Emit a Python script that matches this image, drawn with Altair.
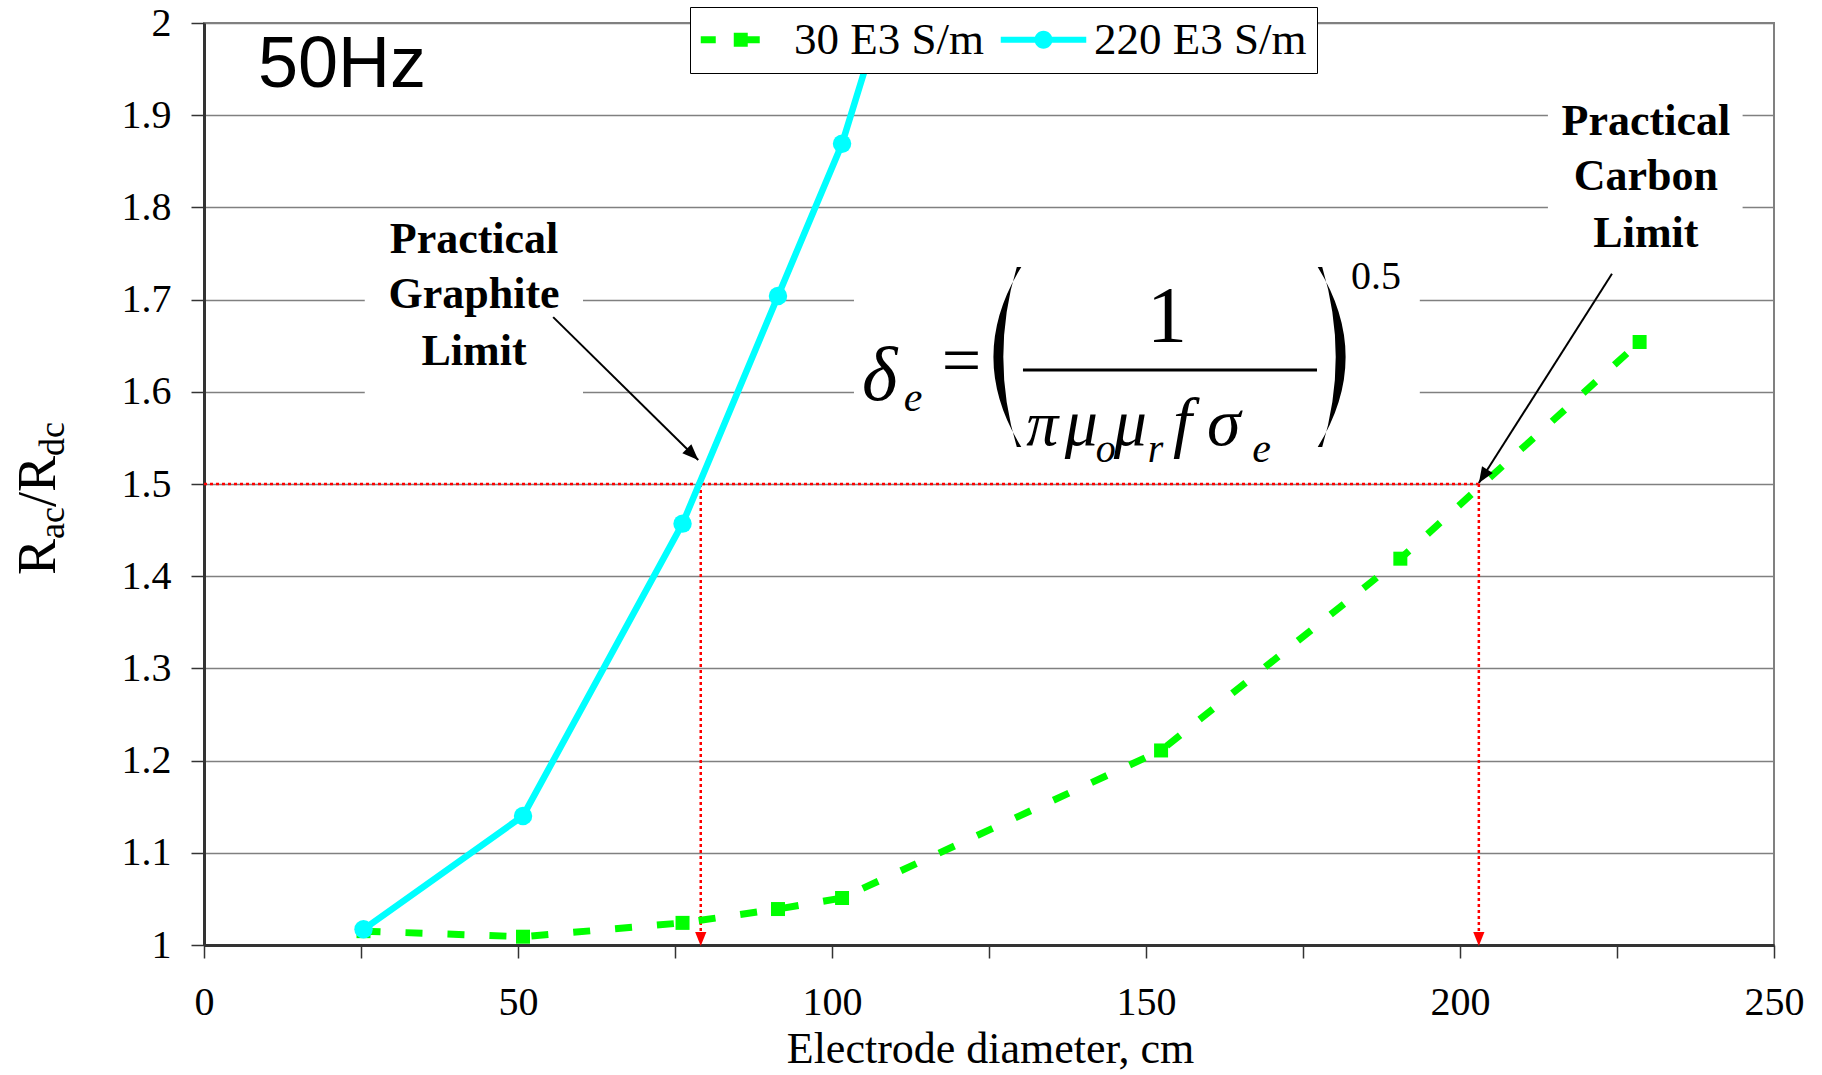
import altair as alt
import pandas as pd

# ---------------- data ----------------
series_names = ["30 E3 S/m", "220 E3 S/m"]
series_colors = ["#00FF00", "#00FFFF"]

diam_30 = [25.4, 50.8, 76.2, 91.4, 101.6, 152.4, 190.5, 228.6]
ratio_30 = [1.015, 1.009, 1.024, 1.039, 1.051, 1.211, 1.419, 1.654]

diam_220 = [25.4, 50.8, 76.2, 91.4, 101.6, 114.3]
ratio_220 = [1.017, 1.140, 1.457, 1.704, 1.869, 2.15]

x_tick_values = [0, 25, 50, 75, 100, 125, 150, 175, 200, 225, 250]
y_tick_values = [1.0, 1.1, 1.2, 1.3, 1.4, 1.5, 1.6, 1.7, 1.8, 1.9, 2.0]

limit_ratio = 1.5
graphite_limit_cm = 79.1
carbon_limit_cm = 203.0

# annotation texts (data coordinates)
note_text = ["Practical", "Graphite", "Limit", "Practical", "Carbon", "Limit"]
note_x = [43.0, 43.0, 43.0, 229.6, 229.6, 229.6]
note_y = [1.7505, 1.691, 1.629, 1.8785, 1.8189, 1.757]

# white label boxes
box_x = [25.6, 103.5, 214.0]
box_x2 = [60.35, 193.6, 245.0]
box_y = [1.585, 1.53, 1.745]
box_y2 = [1.785, 1.77, 1.93]

# black pointer arrows
arrow_x = [55.6, 224.2]
arrow_y = [1.681, 1.728]
arrow_x2 = [78.7, 203.0]
arrow_y2 = [1.526, 1.501]
arrow_angle = [134.6, 212.5]

# formula pieces
f_ital_text = ["δ", "e", "π", "μ", "o", "μ", "r", "f", "σ", "e"]
f_ital_x = [107.6, 112.9, 133.5, 139.7, 143.6, 147.5, 151.5, 155.8, 162.4, 168.4]
f_ital_y = [1.5911, 1.5795, 1.5423, 1.5423, 1.5239, 1.5423, 1.5239, 1.5423, 1.5423, 1.5239]
f_ital_size = [76, 42, 64, 66, 40, 66, 40, 68, 68, 42]

f_reg_text = ["=", "1", "0.5"]
f_reg_x = [120.6, 153.34, 186.62]
f_reg_y = [1.6085, 1.654, 1.7115]
f_reg_size = [70, 80, 40]

frac_x = [130.41]
frac_x2 = [177.23]
frac_y = [1.6236]

paren_x = [127.71, 179.78]
paren_y = [1.6377, 1.6377]

# y-axis title pieces R_ac / R_dc
yt_text = ["R", "ac", "/R", "dc"]
yt_x = [-23.73, -22.29, -23.73, -22.29]
yt_y = [1.4013, 1.4403, 1.475, 1.5304]
yt_size = [54, 36, 54, 36]

# ---------------- scales / axes ----------------
xscale = alt.Scale(domain=[0, 250], nice=False, zero=False)
yscale = alt.Scale(domain=[1, 2], nice=False, zero=False)

xaxis = alt.Axis(
    values=x_tick_values,
    labelExpr="datum.value % 50 == 0 ? datum.label : ''",
    title="Electrode diameter, cm",
    grid=False,
    labelFont="Liberation Serif", labelFontSize=40, labelColor="black",
    labelPadding=24, labelFlush=False, labelOverlap=False,
    tickSize=13, tickWidth=1.5, tickColor="#333333",
    domainColor="#333333", domainWidth=3,
    titleFont="Liberation Serif", titleFontSize=44, titleFontWeight="normal",
    titleColor="black", titleY=117, titleBaseline="alphabetic", titleX=786,
)
yaxis = alt.Axis(
    values=y_tick_values,
    format=".1~f",
    title=None,
    grid=True, gridColor="#808080", gridWidth=1.5,
    labelFont="Liberation Serif", labelFontSize=40, labelColor="black",
    labelPadding=20, labelOverlap=False,
    tickSize=13, tickWidth=1.5, tickColor="#333333",
    domainColor="#333333", domainWidth=3,
)


def X(f):
    return alt.X(f, type="quantitative", scale=xscale, axis=xaxis)


def Y(f):
    return alt.Y(f, type="quantitative", scale=yscale, axis=yaxis)


# ---------------- layers ----------------
boxes = alt.Chart(pd.DataFrame({"x": box_x, "x2": box_x2, "y": box_y, "y2": box_y2})).mark_rect(
    color="white", opacity=1
).encode(x=X("x"), x2="x2", y=Y("y"), y2="y2")

limit_df = pd.DataFrame({
    "x": [0, graphite_limit_cm, carbon_limit_cm],
    "x2": [carbon_limit_cm, graphite_limit_cm, carbon_limit_cm],
    "y": [limit_ratio, limit_ratio, limit_ratio],
    "y2": [limit_ratio, 1.014, 1.014],
})
limit_lines = alt.Chart(limit_df).mark_rule(color="#FF0000", strokeDash=[3, 3], strokeWidth=2.5).encode(
    x=X("x"), x2="x2", y=Y("y"), y2="y2"
)

head_path = "M0,0L0.4,1L-0.4,1Z"
red_heads = alt.Chart(pd.DataFrame({"x": [graphite_limit_cm, carbon_limit_cm], "y": [0.999, 0.999]})).mark_point(
    shape=head_path, filled=True, color="#FF0000", size=784, angle=180, opacity=1, strokeWidth=0
).encode(x=X("x"), y=Y("y"))

df30 = pd.DataFrame({"d": diam_30, "r": ratio_30})
df220 = pd.DataFrame({"d": diam_220, "r": ratio_220})

line30 = alt.Chart(df30).mark_line(color="#00FF00", strokeWidth=7, strokeDash=[17, 25]).encode(
    x=X("d"), y=Y("r")
)
pts30 = alt.Chart(df30).mark_point(shape="square", filled=True, color="#00FF00", size=196, opacity=1).encode(
    x=X("d"), y=Y("r")
)
line220 = alt.Chart(df220).mark_line(color="#00FFFF", strokeWidth=6.5, clip=True).encode(
    x=X("d"), y=Y("r")
)
pts220 = alt.Chart(df220).mark_point(shape="circle", filled=True, color="#00FFFF", size=340, opacity=1, clip=True).encode(
    x=X("d"), y=Y("r")
)

arrow_df = pd.DataFrame({"x": arrow_x, "y": arrow_y, "x2": arrow_x2, "y2": arrow_y2, "angle": arrow_angle})
arrow_lines = alt.Chart(arrow_df).mark_rule(color="black", strokeWidth=2).encode(
    x=X("x"), y=Y("y"), x2="x2", y2="y2"
)
arrow_heads = alt.Chart(arrow_df).mark_point(
    shape=head_path, filled=True, color="black", size=1024, opacity=1, strokeWidth=0
).encode(x=X("x2"), y=Y("y2"), angle=alt.Angle("angle:Q", scale=None))

notes = alt.Chart(pd.DataFrame({"t": note_text, "x": note_x, "y": note_y})).mark_text(
    font="Liberation Serif", fontSize=44, fontWeight="bold", color="black", align="center", baseline="alphabetic"
).encode(x=X("x"), y=Y("y"), text="t:N")

hz = alt.Chart(pd.DataFrame({"t": ["50Hz"], "x": [8.6], "y": [1.9306]})).mark_text(
    font="Liberation Sans", fontSize=72, color="black", align="left", baseline="alphabetic"
).encode(x=X("x"), y=Y("y"), text="t:N")

f_ital = alt.Chart(pd.DataFrame({"t": f_ital_text, "x": f_ital_x, "y": f_ital_y, "s": f_ital_size})).mark_text(
    font="Liberation Serif", fontStyle="italic", color="black", align="center", baseline="alphabetic"
).encode(x=X("x"), y=Y("y"), text="t:N", size=alt.Size("s:Q", scale=None))

f_reg = alt.Chart(pd.DataFrame({"t": f_reg_text, "x": f_reg_x, "y": f_reg_y, "s": f_reg_size})).mark_text(
    font="Liberation Serif", color="black", align="center", baseline="alphabetic"
).encode(x=X("x"), y=Y("y"), text="t:N", size=alt.Size("s:Q", scale=None))

frac = alt.Chart(pd.DataFrame({"x": frac_x, "x2": frac_x2, "y": frac_y})).mark_rule(
    color="black", strokeWidth=3
).encode(x=X("x"), x2="x2", y=Y("y"))

left_paren = "M0.17,-1Q-0.45,0 0.17,1L0.12,1Q-0.18,0 0.12,-1Z"
right_paren = "M-0.17,-1Q0.45,0 -0.17,1L-0.12,1Q0.18,0 -0.12,-1Z"
lp = alt.Chart(pd.DataFrame({"x": paren_x[:1], "y": paren_y[:1]})).mark_point(
    shape=left_paren, filled=True, color="black", size=32400, opacity=1, strokeWidth=0
).encode(x=X("x"), y=Y("y"))
rp = alt.Chart(pd.DataFrame({"x": paren_x[1:], "y": paren_y[1:]})).mark_point(
    shape=right_paren, filled=True, color="black", size=32400, opacity=1, strokeWidth=0
).encode(x=X("x"), y=Y("y"))

ytitle = alt.Chart(pd.DataFrame({"t": yt_text, "x": yt_x, "y": yt_y, "s": yt_size})).mark_text(
    font="Liberation Serif", color="black", angle=270, align="left", baseline="alphabetic"
).encode(x=X("x"), y=Y("y"), text="t:N", size=alt.Size("s:Q", scale=None))

# legend (symbols drawn as line+marker paths)
path_green = ("M-1.9,-0.156H-1.233V0.156H-1.9Z "
              "M-0.433,-0.311H0.189V0.311H-0.433Z "
              "M0.189,-0.156H0.722V0.156H0.189Z")
path_cyan = ("M-1.9,-0.133H1.9V0.133H-1.9Z "
             "M0.4,0A0.4,0.4 0 1,1 -0.4,0A0.4,0.4 0 1,1 0.4,0Z")

leg = alt.Legend(
    title=None, orient="none", legendX=486, legendY=-16, direction="horizontal",
    symbolSize=2025, symbolStrokeWidth=0, symbolOffset=21, symbolOpacity=1,
    labelOffset=28, columnPadding=15, padding=10,
    fillColor="white", strokeColor="black", cornerRadius=0,
    labelFont="Liberation Serif", labelFontSize=45, labelColor="black", labelLimit=0,
)
legend_layer = alt.Chart(pd.DataFrame({"series": series_names, "x": [-50, -50], "y": [0.5, 0.5]})).mark_point(
    filled=True, opacity=1, size=2025, clip=True
).encode(
    x=X("x"), y=Y("y"),
    color=alt.Color("series:N", scale=alt.Scale(domain=series_names, range=series_colors), legend=leg),
    shape=alt.Shape("series:N", scale=alt.Scale(domain=series_names, range=[path_green, path_cyan]), legend=leg),
)

chart = alt.layer(
    boxes, limit_lines, red_heads, line30, pts30, line220, pts220,
    arrow_lines, arrow_heads, notes, hz, f_ital, f_reg, frac, lp, rp, ytitle, legend_layer,
).properties(
    width=1570, height=922,
    autosize=alt.AutoSizeParams(type="none"),
    padding={"left": 204, "top": 23, "right": 48, "bottom": 130},
    background="white",
).configure_view(stroke="#808080", strokeWidth=2)

chart.save("out.html", embed_options={"renderer": "svg", "actions": False})
